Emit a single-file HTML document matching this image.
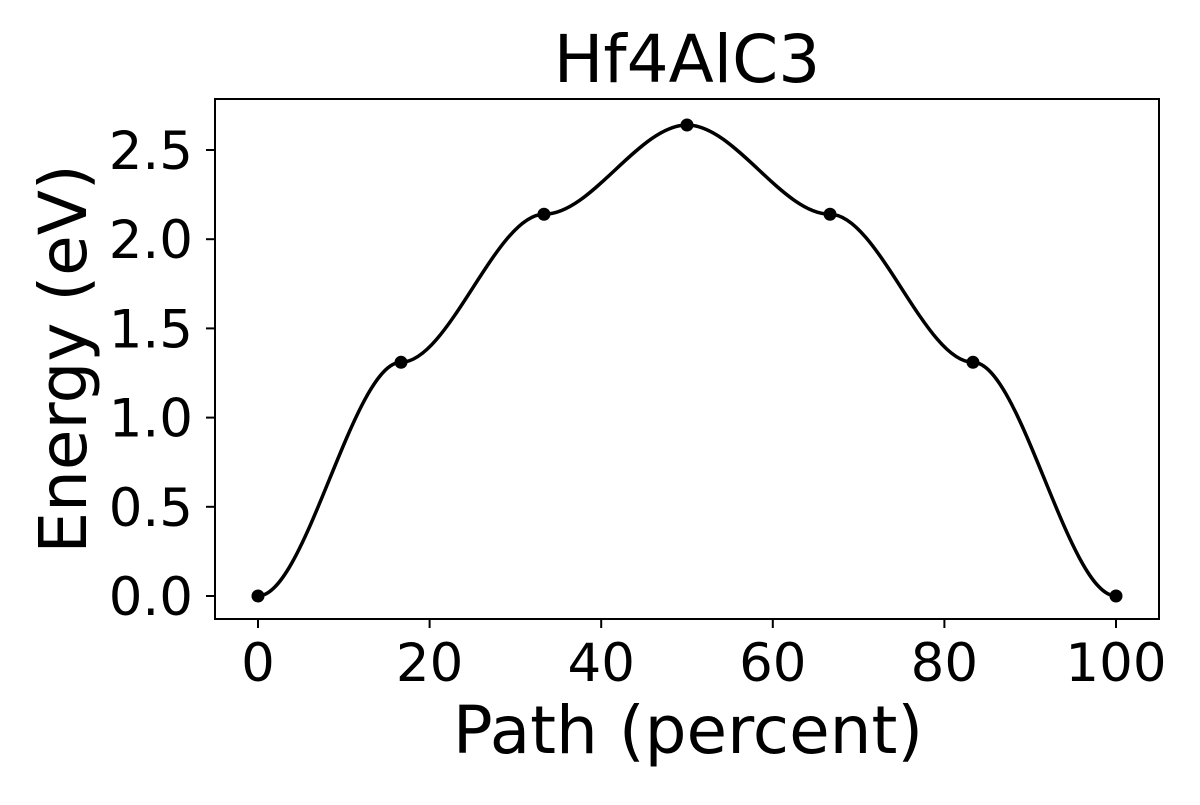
<!DOCTYPE html>
<html><head><meta charset="utf-8"><style>
body{margin:0;background:#fff}
svg text{font-family:"DejaVu Sans","Liberation Sans",sans-serif;fill:#000}
</style></head><body>
<svg id="chart" width="1200" height="800" xmlns="http://www.w3.org/2000/svg">
<rect width="1200" height="800" fill="#fff"/>
<text x="687" y="82" font-size="66" text-anchor="middle">Hf4AlC3</text>
<text x="688" y="753" font-size="66" text-anchor="middle">Path (percent)</text>
<text transform="translate(86,359) rotate(-90)" font-size="66" text-anchor="middle">Energy (eV)</text>
<g id="ticks"></g>
<path id="curve" fill="none" stroke="#000" stroke-width="3.5"/>
<g id="points"></g>
<rect x="215" y="99" width="944" height="520" fill="none" stroke="#000" stroke-width="2"/>
</svg>
<script>
const pathPct = [0, 16.67, 33.33, 50, 66.67, 83.33, 100];
const energy = [0, 1.31, 2.14, 2.64, 2.14, 1.31, 0];
const xTicks = [0, 20, 40, 60, 80, 100];
const yTicks = [0.0, 0.5, 1.0, 1.5, 2.0, 2.5];
const yTickLabels = ["0.0","0.5","1.0","1.5","2.0","2.5"];
const X = v => 258 + (v/100)*858;
const Y = v => 596 - v*178.4;
const NS = "http://www.w3.org/2000/svg";
const tg = document.getElementById('ticks');
function mk(tag, attrs, parent){const e=document.createElementNS(NS,tag);for(const k in attrs)e.setAttribute(k,attrs[k]);parent.appendChild(e);return e;}
xTicks.forEach(t=>{
  const l=mk('line',{x1:X(t),x2:X(t),y1:619,y2:628,stroke:'#000','stroke-width':2},tg);
  
  
  const tx=mk('text',{x:X(t),y:681,'font-size':53,'text-anchor':'middle'},tg);
  tx.textContent=t;
  
  
});
yTicks.forEach((t,i)=>{
  const l=mk('line',{x1:206,x2:215,y1:Y(t),y2:Y(t),stroke:'#000','stroke-width':2},tg);
  
  
  const tx=mk('text',{x:193,y:Y(t)+19,'font-size':53,'text-anchor':'end'},tg);
  tx.textContent=yTickLabels[i];
  
  
});
let d='';
for(let i=0;i<pathPct.length-1;i++){
  const x0=X(pathPct[i]),x1=X(pathPct[i+1]),y0=Y(energy[i]),y1=Y(energy[i+1]);
  const dx=(x1-x0)/3;
  if(i===0)d+='M'+x0+','+y0;
  d+=' C'+(x0+dx)+','+y0+' '+(x1-dx)+','+y1+' '+x1+','+y1;
}
document.getElementById('curve').setAttribute('d',d);
const pg=document.getElementById('points');
pathPct.forEach((p,i)=>{
  const c=mk('circle',{cx:X(p),cy:Y(energy[i]),r:6.5,fill:'#000'},pg);
  
  
});
</script>
</body></html>
